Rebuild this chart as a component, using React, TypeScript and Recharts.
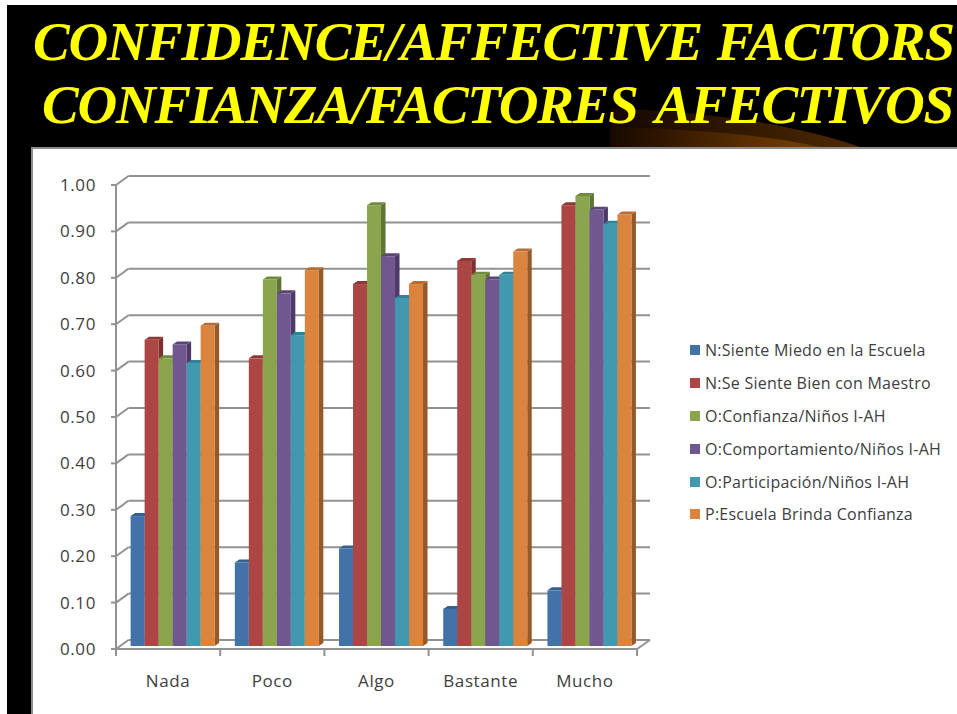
import React from "react";
import { BarChart, Bar, XAxis, YAxis, CartesianGrid, Legend } from "recharts";

const categories = ["Nada", "Poco", "Algo", "Bastante", "Mucho"];
const miedo = [0.28, 0.18, 0.21, 0.08, 0.12];
const maestro = [0.66, 0.62, 0.78, 0.83, 0.95];
const confianza = [0.62, 0.79, 0.95, 0.8, 0.97];
const comportamiento = [0.65, 0.76, 0.84, 0.79, 0.94];
const participacion = [0.61, 0.67, 0.75, 0.8, 0.91];
const escuela = [0.69, 0.81, 0.78, 0.85, 0.93];
const yTicks = [0, 0.1, 0.2, 0.3, 0.4, 0.5, 0.6, 0.7, 0.8, 0.9, 1];

const seriesNames = [
  "N:Siente Miedo en la Escuela",
  "N:Se Siente Bien con Maestro",
  "O:Confianza/Niños I-AH",
  "O:Comportamiento/Niños I-AH",
  "O:Participación/Niños I-AH",
  "P:Escuela Brinda Confianza",
];
const seriesValues = [miedo, maestro, confianza, comportamiento, participacion, escuela];
const fronts = ["#4372A8", "#AC4644", "#8BA54F", "#70578F", "#4198AF", "#DB843D"];
const sides = ["#2F5480", "#7F2F2E", "#5F7535", "#4E3A66", "#2C7087", "#96592A"];
const tops = ["#33608F", "#8E3836", "#6F8A3D", "#5A4577", "#33809A", "#B86E30"];

const data = categories.map((c, i) => {
  const row: Record<string, string | number> = { category: c };
  seriesNames.forEach((n, s) => {
    row[n] = seriesValues[s][i];
  });
  return row;
});

const FONT = "'Open Sans', sans-serif";
const AXIS = "#929292";
const TEXT = "#404040";
const BAND = 104.2;
const BACK_X = 12.5;
const BACK_Y = 9;

const makeBar = (s: number) => (p: any) => {
  const sx = 4;
  const sy = -3;
  const x = p.x + sx;
  const y = p.y + sy;
  const w = p.width;
  const h = p.height;
  const dx = 4.5;
  const dy = 3;
  return (
    <g>
      <polygon
        points={`${x + w},${y} ${x + w + dx},${y - dy} ${x + w + dx},${y + h - dy} ${x + w},${y + h}`}
        fill={sides[s]}
      />
      <polygon
        points={`${x},${y} ${x + dx},${y - dy} ${x + w + dx},${y - dy} ${x + w},${y}`}
        fill={tops[s]}
      />
      <rect x={x} y={y} width={w} height={h} fill={fronts[s]} />
    </g>
  );
};

const gridLine = (p: any) => {
  const isFloor = Math.abs(p.y1 - 649) < 1;
  return (
    <g key={p.key ?? p.y1}>
      <line x1={p.x1} y1={p.y1} x2={p.x1 + BACK_X} y2={p.y1 - BACK_Y} stroke={AXIS} strokeWidth={2} />
      <line x1={p.x1 + BACK_X} y1={p.y1 - BACK_Y} x2={p.x2 + BACK_X + 0.5} y2={p.y1 - BACK_Y} stroke={AXIS} strokeWidth={2} />
      {isFloor && (
        <line x1={p.x2} y1={p.y1} x2={p.x2 + BACK_X + 0.5} y2={p.y1 - BACK_Y} stroke={AXIS} strokeWidth={2} />
      )}
    </g>
  );
};

const XTick = (p: any) => {
  const last = p.index === categories.length - 1;
  return (
    <g>
      <line x1={p.x - BAND / 2} y1={649} x2={p.x - BAND / 2} y2={656} stroke={AXIS} strokeWidth={2} />
      {last && <line x1={p.x + BAND / 2} y1={649} x2={p.x + BAND / 2} y2={656} stroke={AXIS} strokeWidth={2} />}
      <text x={p.x} y={687} textAnchor="middle" fontFamily={FONT} fontSize={17} letterSpacing={0.6} fill={TEXT}>
        {p.payload.value}
      </text>
    </g>
  );
};

const YTick = (p: any) => (
  <text x={96} y={p.y + 6} textAnchor="end" fontFamily={FONT} fontSize={17} letterSpacing={0.6} fill={TEXT}>
    {Number(p.payload.value).toFixed(2)}
  </text>
);

const LegendBody = () => (
  <div>
    {seriesNames.map((name, s) => (
      <div
        key={name}
        style={{ display: "flex", alignItems: "center", height: 32.8, whiteSpace: "nowrap" }}
      >
        <span style={{ display: "inline-block", width: 10, height: 10, background: fronts[s], marginRight: 5 }} />
        <span style={{ fontFamily: FONT, fontSize: 16, color: TEXT, letterSpacing: 0.25 }}>{name}</span>
      </div>
    ))}
  </div>
);

export default function App() {
  return (
    <div style={{ position: "absolute", left: 0, top: 0, width: 957, height: 714, overflow: "hidden", background: "#fff" }}>
      <div style={{ position: "absolute", left: 7, top: 5, width: 950, height: 709, background: "#000" }} />
      <svg width={957} height={150} style={{ position: "absolute", left: 0, top: 0 }}>
        <defs>
          <linearGradient id="glowA" x1="0" x2="1" y1="0" y2="0">
            <stop offset="0" stopColor="#140600" />
            <stop offset="1" stopColor="#4F2A00" />
          </linearGradient>
          <linearGradient id="glowB" x1="0" x2="1" y1="0" y2="0">
            <stop offset="0" stopColor="#180900" />
            <stop offset="0.85" stopColor="#703A00" />
            <stop offset="1" stopColor="#683500" />
          </linearGradient>
        </defs>
        <path d="M610 148 L610 108 C700 112 790 122 863 148 Z" fill="url(#glowA)" />
        <path d="M612 148 L612 127 C690 129 770 135 825 148 Z" fill="url(#glowB)" />
        <text x={33} y={60} textLength={922} lengthAdjust="spacing" wordSpacing={2} fontFamily="'Liberation Serif', serif" fontWeight="bold" fontStyle="italic" fontSize={55} fill="#FFFF00">
          CONFIDENCE/AFFECTIVE FACTORS
        </text>
        <text x={42} y={123} textLength={912} lengthAdjust="spacing" wordSpacing={7} fontFamily="'Liberation Serif', serif" fontWeight="bold" fontStyle="italic" fontSize={55} fill="#FFFF00">
          CONFIANZA/FACTORES AFECTIVOS
        </text>
      </svg>
      <div
        style={{
          position: "absolute",
          left: 31,
          top: 147,
          width: 930,
          height: 570,
          background: "#fff",
          borderLeft: "2px solid #8C8C8C",
          borderTop: "2px solid #8C8C8C",
          boxSizing: "border-box",
        }}
      />
      <div style={{ position: "absolute", left: 0, top: 0 }}>
        <BarChart
          width={957}
          height={714}
          data={data}
          barGap={0}
          barCategoryGap="10.2%"
          margin={{ left: 66, top: 185, right: 320, bottom: 35 }}
        >
          <CartesianGrid vertical={false} horizontal={gridLine} />
          <XAxis
            dataKey="category"
            height={30}
            stroke={AXIS}
            strokeWidth={2}
            tickLine={false}
            tick={<XTick />}
            interval={0}
          />
          <YAxis
            width={50}
            domain={[0, 1]}
            ticks={yTicks}
            interval={0}
            stroke={AXIS}
            strokeWidth={2}
            tickSize={5}
            tickLine={{ stroke: AXIS, strokeWidth: 2 }}
            tick={<YTick />}
          />
          <Legend
            layout="vertical"
            align="center"
            verticalAlign="middle"
            wrapperStyle={{ left: 690, top: 334, width: 267 }}
            content={<LegendBody />}
          />
          {seriesNames.map((n, s) => (
            <Bar key={n} dataKey={n} name={n} fill={fronts[s]} shape={makeBar(s)} isAnimationActive={false} />
          ))}
        </BarChart>
      </div>
    </div>
  );
}
